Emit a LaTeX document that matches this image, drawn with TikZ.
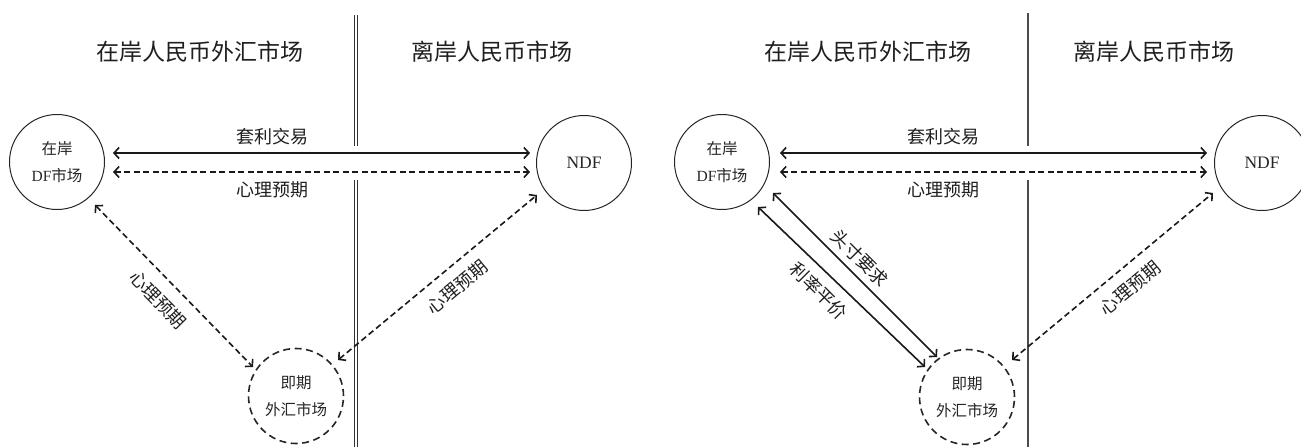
\documentclass[tikz,border=0pt]{standalone}
\usepackage{fontspec}
\setmainfont{Liberation Serif}
\newfontfamily\cjk{Noto Sans CJK SC}
\usetikzlibrary{arrows.meta}
\begin{document}
\begin{tikzpicture}[x=1pt,y=-1pt,
  mk/.style={circle, draw=black!85, line width=1pt, minimum size=95pt, inner sep=0pt,
    align=center, text=black!85, font=\fontsize{15.5}{27}\selectfont},
  mkdash/.style={mk, dash pattern=on 7pt off 4.5pt, line width=1.6pt},
  hdr/.style={font=\cjk\fontsize{23}{28}\selectfont, text=black!88, inner sep=0pt},
  lbl/.style={font=\cjk\fontsize{18}{20}\selectfont, text=black!88, inner sep=0pt},
  conn/.style={line width=1.6pt, draw=black!90, {Straight Barb[length=5pt,width=11pt,line width=1.6pt]}-{Straight Barb[length=5pt,width=11pt,line width=1.6pt]}},
  dconn/.style={conn, dash pattern=on 6pt off 3.5pt},
  divider/.style={draw=black!80, line width=1pt}
]
\useasboundingbox (0,0) rectangle (1301,447);
\fill[white] (0,0) rectangle (1301,447);

% ---------- left panel ----------
\node[hdr] (h1) at (200,52) {在岸人民币外汇市场};
\node[hdr] (h2) at (492,52) {离岸人民币市场};

\draw[divider, double, double distance=2pt] (356,15) coordinate (d1a) -- (356,146) coordinate (d1b);
\draw[divider, double, double distance=2pt] (356,180) coordinate (d1c) -- (356,447) coordinate (d1d);

\node[mk] (A) at (57,162) {{\cjk 在岸}\\DF{\cjk 市场}};
\node[mk, font=\fontsize{17.5}{20}\selectfont] (N) at (584,163) {NDF};
\node[mkdash] (S) at (296,396) {\cjk 即期\\\cjk 外汇市场};

\draw[conn] ([shift={(56,-9)}]A.center) -- ([shift={(-54,-10)}]N.center);
\draw[dconn] ([shift={(56,10)}]A.center) -- ([shift={(-54,9)}]N.center);
\draw[dconn] ([shift={(38,43)}]A.center) -- ([shift={(-43,-29)}]S.center);
\draw[dconn] ([shift={(42,-36)}]S.center) -- ([shift={(-47,32)}]N.center);

\node[lbl] (t1) at (272,137) {套利交易};
\node[lbl] (x1) at (272,190) {心理预期};
\node[lbl, rotate=-45.7] (e1) at (158,300) {心理预期};
\node[lbl, rotate=39.7] (e2) at (457,287) {心理预期};

% ---------- right panel ----------
\node[hdr] (h3) at (868,52) {在岸人民币外汇市场};
\node[hdr] (h4) at (1154,52) {离岸人民币市场};

\draw[divider, line width=2pt, draw=black!70] (1028,13) coordinate (d2a) -- (1028,146) coordinate (d2b);
\draw[divider, line width=2pt, draw=black!70] (1028,180) coordinate (d2c) -- (1028,447) coordinate (d2d);

\node[mk] (A2) at (722,162) {{\cjk 在岸}\\DF{\cjk 市场}};
\node[mk, font=\fontsize{17.5}{20}\selectfont] (N2) at (1262,163) {NDF};
\node[mkdash] (S2) at (967,397) {\cjk 即期\\\cjk 外汇市场};

\draw[conn] ([shift={(58,-9)}]A2.center) -- ([shift={(-55,-10)}]N2.center);
\draw[dconn] ([shift={(58,10)}]A2.center) -- ([shift={(-55,9)}]N2.center);
\draw[conn] ([shift={(51,31)}]A2.center) -- ([shift={(-30,-40)}]S2.center);
\draw[conn] ([shift={(36,45)}]A2.center) -- ([shift={(-42,-30)}]S2.center);
\draw[dconn] ([shift={(45,-37)}]S2.center) -- ([shift={(-49,30)}]N2.center);

\node[lbl] (t2) at (943,137) {套利交易};
\node[lbl] (x2) at (943,190) {心理预期};
\node[lbl, rotate=-45] (e3) at (860,258) {头寸要求};
\node[lbl, rotate=-45] (e4) at (819,291) {利率平价};
\node[lbl, rotate=39.7] (e5) at (1130,288) {心理预期};
\end{tikzpicture}
\end{document}
